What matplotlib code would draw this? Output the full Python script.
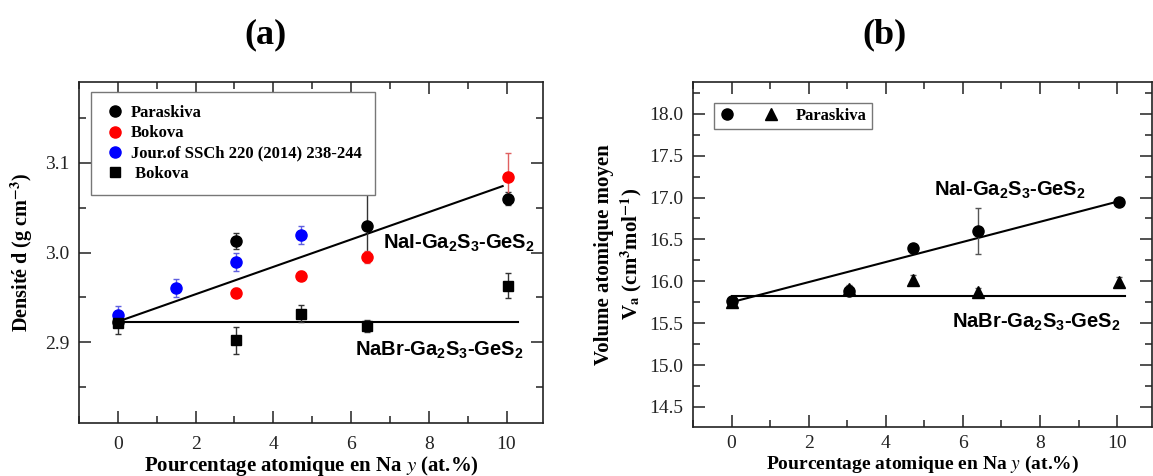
import matplotlib
matplotlib.use("Agg")
import matplotlib.pyplot as plt
from matplotlib.lines import Line2D
from matplotlib.legend_handler import HandlerTuple
from matplotlib.ticker import MultipleLocator, FormatStrFormatter

plt.rcParams['font.family'] = 'Liberation Serif'
plt.rcParams['mathtext.fontset'] = 'custom'
plt.rcParams['mathtext.rm'] = 'Liberation Sans:bold'
plt.rcParams['mathtext.it'] = 'Liberation Sans:bold'
plt.rcParams['mathtext.bf'] = 'Liberation Sans:bold'

# ---- (a) density data ----
y_paraskiva = [0, 3.05, 6.4, 10.05]
d_paraskiva = [2.923, 3.013, 3.030, 3.060]
d_paraskiva_err = [0.005, 0.009, 0.035, 0.007]

y_bokova = [3.05, 4.7, 6.4, 10.05]
d_bokova = [2.955, 2.974, 2.995, 3.084]
d_bokova_err = [0.005, 0.005, 0.007, 0.027]

y_jssc = [0, 1.5, 3.05, 4.7]
d_jssc = [2.930, 2.960, 2.989, 3.019]
d_jssc_err = [0.010, 0.010, 0.010, 0.010]

y_bokova_br = [0, 3.05, 4.7, 6.4, 10.05]
d_bokova_br = [2.922, 2.902, 2.932, 2.918, 2.963]
d_bokova_br_err = [0.013, 0.015, 0.009, 0.007, 0.014]

# fit lines
fit_a_nai_x = [0, 9.9]
fit_a_nai_y = [2.923, 3.074]
fit_a_nabr_x = [0, 10.3]
fit_a_nabr_y = [2.923, 2.923]

# ---- (b) mean atomic volume data ----
y_va = [0, 3.05, 4.7, 6.4, 10.05]
va_nai = [15.76, 15.88, 16.40, 16.60, 16.95]
va_nai_err = [0.03, 0.03, 0.03, 0.28, 0.03]
va_nabr = [15.75, 15.91, 16.02, 15.87, 15.99]
va_nabr_err = [0.05, 0.05, 0.06, 0.05, 0.06]

fit_b_nai_x = [0, 10]
fit_b_nai_y = [15.75, 16.95]
fit_b_nabr_x = [0, 10.2]
fit_b_nabr_y = [15.82, 15.82]

label_nai = r'NaI-Ga$_2$S$_3$-GeS$_2$'
label_nabr = r'NaBr-Ga$_2$S$_3$-GeS$_2$'
xlabel = r'Pourcentage atomique en Na $y$ (at.%)'


def style_axes(ax, xpad=9):
    ax.tick_params(which='both', direction='in', top=True, right=True,
                   width=1.1, labelsize=14, colors='#222222')
    ax.tick_params(which='major', length=8.5)
    ax.tick_params(which='minor', length=5)
    ax.tick_params(axis='x', which='major', pad=xpad)
    ax.tick_params(axis='y', which='major', pad=7)
    ax.xaxis.set_major_locator(MultipleLocator(2))
    ax.xaxis.set_minor_locator(MultipleLocator(1))
    for s in ax.spines.values():
        s.set_linewidth(1.2)
        s.set_color('#222222')


fig = plt.figure(figsize=(11.53, 4.76), dpi=100)
ax1 = fig.add_axes([0.0685, 0.1113, 0.4025, 0.7164])
ax2 = fig.add_axes([0.601, 0.103, 0.398, 0.7248])

# ---- panel (a) ----
eb = dict(ls='none', capsize=2.5, elinewidth=1.0, capthick=1.0)
ax1.plot(fit_a_nai_x, fit_a_nai_y, color='black', lw=1.5)
ax1.plot(fit_a_nabr_x, fit_a_nabr_y, color='black', lw=1.5)
ax1.errorbar(y_paraskiva, d_paraskiva, yerr=d_paraskiva_err, marker='o', ms=8,
             color='black', ecolor='#333333', **eb)
ax1.errorbar(y_bokova, d_bokova, yerr=d_bokova_err, marker='o', ms=8,
             color='red', ecolor='#e06060', **eb)
ax1.errorbar(y_jssc, d_jssc, yerr=d_jssc_err, marker='o', ms=8,
             color='blue', ecolor='#6060e0', **eb)
ax1.errorbar(y_bokova_br, d_bokova_br, yerr=d_bokova_br_err, marker='s', ms=7,
             color='black', ecolor='#333333', **eb)

ax1.set_xlim(-1, 10.94)
ax1.set_ylim(2.81, 3.19)
style_axes(ax1)
ax1.yaxis.set_major_locator(MultipleLocator(0.1))
ax1.yaxis.set_minor_locator(MultipleLocator(0.05))
ax1.yaxis.set_major_formatter(FormatStrFormatter('%.1f'))

ax1.text(6.83, 3.004, label_nai, family='Liberation Sans', weight='bold', size=14.5)
ax1.text(6.1, 2.8855, label_nabr, family='Liberation Sans', weight='bold', size=14.5)

ax1.set_xlabel(xlabel, weight='bold', size=15, math_fontfamily='stix', labelpad=1)
ax1.set_ylabel(r'Densité d (g cm$^{\mathbf{-3}}$)', weight='bold', size=14.5,
               math_fontfamily='stix', labelpad=7)

handles_a = [
    Line2D([], [], ls='none', marker='o', ms=8, color='black'),
    Line2D([], [], ls='none', marker='o', ms=8, color='red'),
    Line2D([], [], ls='none', marker='o', ms=8, color='blue'),
    Line2D([], [], ls='none', marker='s', ms=7, color='black'),
]
labels_a = ['Paraskiva', 'Bokova', 'Jour.of SSCh 220 (2014) 238-244', ' Bokova']
leg = ax1.legend(handles_a, labels_a, loc='upper left', bbox_to_anchor=(0.026, 0.971),
                 borderaxespad=0, fancybox=False, edgecolor='#777777', framealpha=1,
                 prop=dict(family='Liberation Serif', weight='bold', size=12),
                 handletextpad=0.3, handlelength=1.3, labelspacing=0.25, borderpad=0.8)
leg.get_frame().set_linewidth(1.0)

# ---- panel (b) ----
ax2.plot(fit_b_nai_x, fit_b_nai_y, color='black', lw=1.5)
ax2.plot(fit_b_nabr_x, fit_b_nabr_y, color='black', lw=1.5)
ax2.errorbar(y_va, va_nai, yerr=va_nai_err, marker='o', ms=8,
             color='black', ecolor='#555555', **eb)
ax2.errorbar(y_va, va_nabr, yerr=va_nabr_err, marker='^', ms=8,
             color='black', ecolor='#555555', **eb)

ax2.set_xlim(-1, 10.9)
ax2.set_ylim(14.26, 18.38)
style_axes(ax2, xpad=6)
ax2.yaxis.set_major_locator(MultipleLocator(0.5))
ax2.yaxis.set_minor_locator(MultipleLocator(0.25))
ax2.yaxis.set_major_formatter(FormatStrFormatter('%.1f'))

ax2.text(5.25, 17.02, label_nai, family='Liberation Sans', weight='bold', size=14.5)
ax2.text(5.72, 15.45, label_nabr, family='Liberation Sans', weight='bold', size=14.5)

ax2.set_xlabel(xlabel, weight='bold', size=14, math_fontfamily='stix', labelpad=1)
ax2.set_ylabel('Volume atomique moyen\n' + r'V$_{\mathbf{a}}$ (cm$^{\mathbf{3}}$mol$^{\mathbf{-1}}$)',
               weight='bold', size=15, math_fontfamily='stix', labelpad=4)

h_circle = Line2D([], [], ls='none', marker='o', ms=8, color='black')
h_tri = Line2D([], [], ls='none', marker='^', ms=8, color='black')
leg2 = ax2.legend([(h_circle, h_tri)], ['Paraskiva'], loc='upper left',
                  bbox_to_anchor=(0.046, 0.939), borderaxespad=0,
                  handler_map={tuple: HandlerTuple(ndivide=None, pad=1.6)},
                  fancybox=False, edgecolor='#777777', framealpha=1,
                  prop=dict(family='Liberation Serif', weight='bold', size=12),
                  handletextpad=1.0, handlelength=3.6, borderpad=0.3)
leg2.get_frame().set_linewidth(1.0)

fig.text(265 / 1153, 1 - 35 / 476, '(a)', ha='center', va='center',
         weight='bold', size=26)
fig.text(885 / 1153, 1 - 35 / 476, '(b)', ha='center', va='center',
         weight='bold', size=26)

fig.savefig('out.png', dpi=100)
